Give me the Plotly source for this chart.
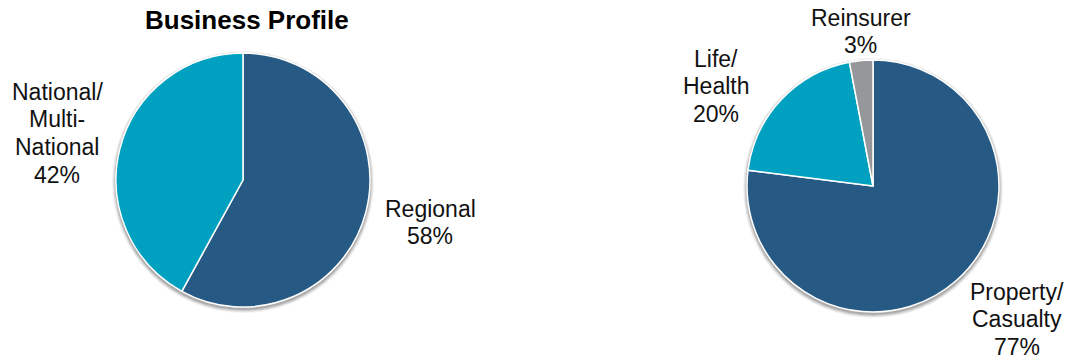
import plotly.graph_objects as go

# Business profile split
profile_labels = ["Regional", "National/<br>Multi-<br>National"]
profile_values = [58, 42]

# Line-of-business split
line_labels = ["Property/<br>Casualty", "Life/<br>Health", "Reinsurer"]
line_values = [77, 20, 3]

DARK_BLUE = "#265A85"
TEAL = "#00A0C0"
GREY = "#96979B"

W, H = 1072, 362
FONT = "Liberation Sans, Arial, sans-serif"
LABEL_SIZE = 23
LINE_STEP = 27.7


def px_domain(cx, cy, r):
    """Pie domain (paper coords) for a circle centred at pixel (cx, cy) with radius r."""
    return dict(x=[(cx - r) / W, (cx + r) / W],
                y=[(H - cy - r) / H, (H - cy + r) / H])


left = (243, 180, 127)
right = (873, 186, 126)

fig = go.Figure()

fig.add_trace(go.Pie(
    labels=profile_labels, values=profile_values,
    marker=dict(colors=[DARK_BLUE, TEAL], line=dict(color="white", width=1.5)),
    sort=False, direction="clockwise", rotation=0,
    textinfo="none", hoverinfo="label+percent", showlegend=False,
    domain=px_domain(*left),
))

fig.add_trace(go.Pie(
    labels=line_labels, values=line_values,
    marker=dict(colors=[DARK_BLUE, TEAL, GREY], line=dict(color="white", width=1.5)),
    sort=False, direction="clockwise", rotation=0,
    textinfo="none", hoverinfo="label+percent", showlegend=False,
    domain=px_domain(*right),
))

# soft drop shadow under each pie
shapes = []
for cx, cy, r in (left, right):
    for grow, alpha in ((4, 0.05), (3, 0.07), (2, 0.10), (1, 0.14)):
        rr = r + grow
        oy = 2
        shapes.append(dict(
            type="circle", xref="paper", yref="paper", layer="below",
            x0=(cx - rr) / W, x1=(cx + rr) / W,
            y0=(H - cy - oy - rr) / H, y1=(H - cy - oy + rr) / H,
            fillcolor=f"rgba(0,0,0,{alpha})", line=dict(width=0),
        ))


def label_lines(name, val):
    return name.split("<br>") + [f"{val}%"]


# outside slice labels: (label, value, centre x px, first-line baseline y px)
label_spots = [
    (profile_labels[0], profile_values[0], 430, 217),
    (profile_labels[1], profile_values[1], 57, 100),
    (line_labels[0], line_values[0], 1017, 300),
    (line_labels[1], line_values[1], 716, 67),
    (line_labels[2], line_values[2], 861, 26),
]

annotations = []
for name, val, x, base in label_spots:
    for i, line in enumerate(label_lines(name, val)):
        y_mid = base + i * LINE_STEP - 0.36 * LABEL_SIZE
        annotations.append(dict(
            text=line, x=x / W, y=(H - y_mid) / H,
            xref="paper", yref="paper", xanchor="center", yanchor="middle",
            showarrow=False, align="center",
            font=dict(family=FONT, size=LABEL_SIZE, color="#111111"),
        ))

annotations.append(dict(
    text="<b>Business Profile</b>", x=247 / W, y=(H - 20) / H,
    xref="paper", yref="paper", xanchor="center", yanchor="middle",
    showarrow=False, font=dict(family=FONT, size=26, color="#000000"),
))

fig.update_layout(
    width=W, height=H,
    margin=dict(l=0, r=0, t=0, b=0),
    paper_bgcolor="white", plot_bgcolor="white",
    shapes=shapes, annotations=annotations,
)

fig.write_html("out.html")
